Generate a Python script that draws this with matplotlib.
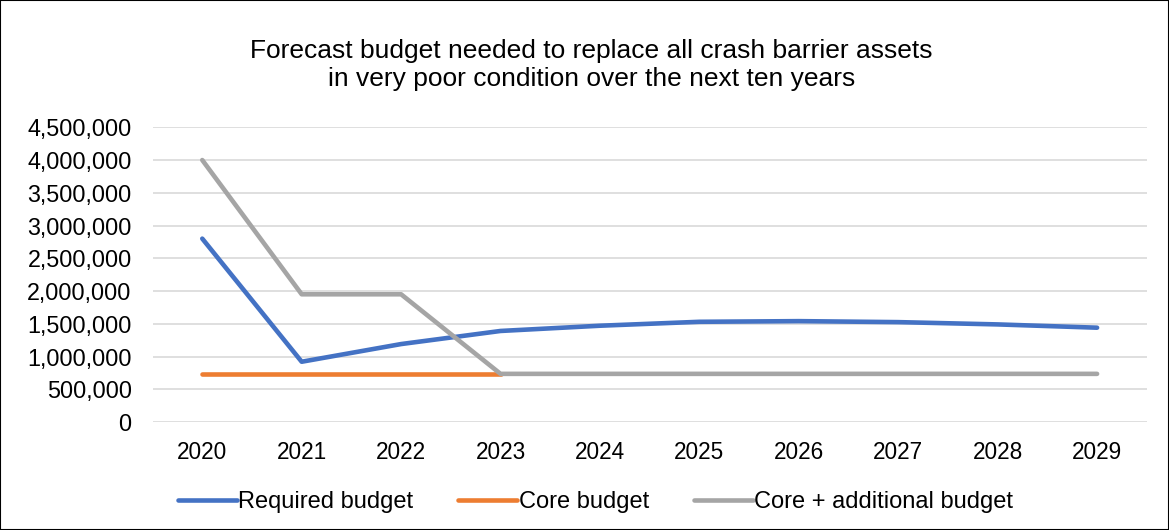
import matplotlib.pyplot as plt
from matplotlib.patches import Rectangle
from matplotlib.ticker import FuncFormatter

plt.rcParams['font.family'] = ['Liberation Sans', 'DejaVu Sans']

years = ["2020", "2021", "2022", "2023", "2024", "2025", "2026", "2027", "2028", "2029"]
required = [2800000, 920000, 1190000, 1390000, 1470000, 1530000, 1540000, 1525000, 1490000, 1440000]
core = [735000, 735000, 735000, 735000]
core_additional = [4000000, 1950000, 1950000, 735000, 735000, 735000, 735000, 735000, 735000, 735000]

fig = plt.figure(figsize=(11.69, 5.30), dpi=100)
ax = fig.add_axes([0.1305, 0.2038, 0.8505, 0.556])

x = range(len(years))
ax.plot(x, required, color='#4472C4', lw=3.3, solid_capstyle='round', label='Required budget')
ax.plot(range(len(core)), core, color='#ED7D31', lw=3.3, solid_capstyle='round', label='Core budget')
ax.plot(x, core_additional, color='#A5A5A5', lw=3.3, solid_capstyle='round', label='Core + additional budget')

ax.set_xlim(-0.5, len(years) - 0.5)
ax.set_ylim(0, 4500000)
ax.set_yticks(range(0, 4500001, 500000))
ax.yaxis.set_major_formatter(FuncFormatter(lambda v, p: f"{int(v):,}"))
ax.set_xticks(list(x))
ax.set_xticklabels(years)
ax.tick_params(axis='y', length=0, labelsize=16.8, pad=15)
ax.tick_params(axis='x', length=0, labelsize=16.3, pad=14)
ax.grid(axis='y', color='#D9D9D9', lw=1.2)
ax.set_axisbelow(True)
for s in ax.spines.values():
    s.set_visible(False)

fig.text(0.506, 0.877, "Forecast budget needed to replace all crash barrier assets\nin very poor condition over the next ten years",
         ha='center', va='center', fontsize=19, linespacing=1.22)

fig.legend(loc='center', bbox_to_anchor=(0.5094, 0.052), ncol=3, frameon=False, fontsize=17,
           handlelength=2.5, handletextpad=0.05, columnspacing=1.9)

fig.add_artist(Rectangle((0, 0), 1, 1, transform=fig.transFigure, fill=False, ec='black', lw=1.5))

fig.savefig("out.png", dpi=100)
